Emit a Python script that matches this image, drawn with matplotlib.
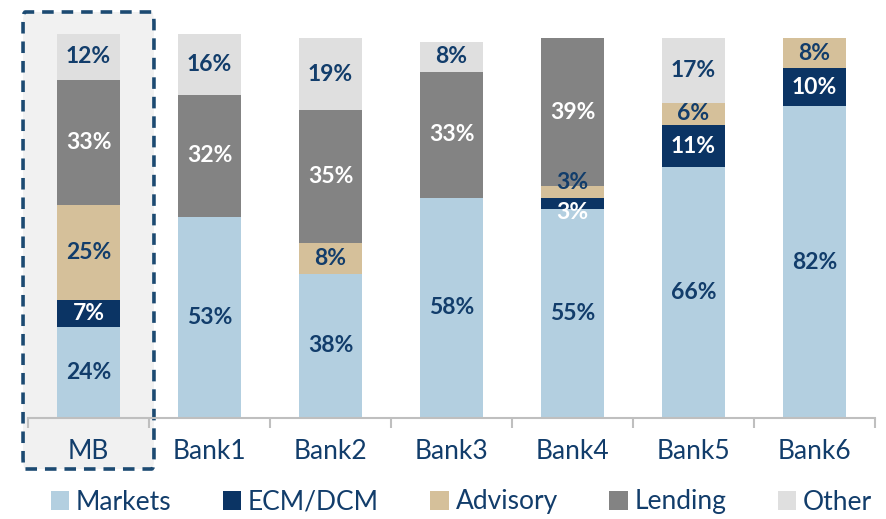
import matplotlib.pyplot as plt
import matplotlib.transforms as mtransforms
from matplotlib.patches import FancyBboxPatch
import numpy as np

plt.rcParams['font.family'] = ['Lato', 'DejaVu Sans']

banks = ['MB', 'Bank1', 'Bank2', 'Bank3', 'Bank4', 'Bank5', 'Bank6']
markets = [24, 53, 38, 58, 55, 66, 82]
ecm_dcm = [7, 0, 0, 0, 3, 11, 10]
advisory = [25, 0, 8, 0, 3, 6, 8]
lending = [33, 32, 35, 33, 39, 0, 0]
other = [12, 16, 19, 8, 0, 17, 0]

series = [
    ('Markets', markets, '#b3cfe0', '#123d6b'),
    ('ECM/DCM', ecm_dcm, '#0b3464', 'white'),
    ('Advisory', advisory, '#d5c09a', '#123d6b'),
    ('Lending', lending, '#838383', 'white'),
    ('Other', other, '#dfdfdf', '#123d6b'),
]
# small nudges so the thin Bank4 slices stay readable
nudge = {(4, 'ECM/DCM'): -2.3, (4, 'Advisory'): 2.6}

text_col = '#123d6b'

fig = plt.figure(figsize=(8.87, 5.19), dpi=100)
ax = fig.add_axes([28 / 887, 1 - 418 / 519, (875 - 28) / 887, (418 - 30) / 519])

x = np.arange(len(banks))
bottom = np.zeros(len(banks))
for name, vals, col, tcol in series:
    vals = np.array(vals, dtype=float)
    ax.bar(x, vals, width=0.52, bottom=bottom, color=col, label=name, zorder=2)
    for i, v in enumerate(vals):
        if v <= 0:
            continue
        y = bottom[i] + v / 2 + nudge.get((i, name), 0)
        ax.text(x[i], y, f'{int(v)}%', ha='center', va='center', color=tcol,
                fontsize=16.5, fontweight='bold', zorder=3)
    bottom += vals

ax.set_xlim(-0.5, len(banks) - 0.5)
ax.set_ylim(0, 102.1)
ax.set_yticks([])
for s in ['top', 'right', 'left']:
    ax.spines[s].set_visible(False)
ax.spines['bottom'].set_color('#bfbfbf')
ax.spines['bottom'].set_linewidth(1.5)

ax.set_xticks(x)
ax.set_xticklabels(banks, fontsize=19, color=text_col)
ax.tick_params(axis='x', which='major', length=0, pad=15)
ax.set_xticks(np.arange(-0.5, len(banks)), minor=True)
ax.tick_params(axis='x', which='minor', length=7, width=1.5, color='#bfbfbf')

# highlight box around MB
trans = mtransforms.blended_transform_factory(ax.transData, fig.transFigure)
box = FancyBboxPatch((-0.541, 1 - 469 / 519), 1.082, (469 - 12) / 519,
                     boxstyle='round,pad=0,rounding_size=0.02',
                     transform=trans, facecolor='#f1f1f1', edgecolor='#1c4a72',
                     linewidth=2.6, linestyle=(0, (3.2, 2.2)), clip_on=False,
                     zorder=0.5)
ax.add_patch(box)

leg = fig.legend(loc='center', bbox_to_anchor=(0.52, 17 / 519), ncol=5,
                 frameon=False, fontsize=19, handlelength=0.7, handleheight=0.7,
                 handletextpad=0.25, columnspacing=1.95, labelcolor=text_col)

fig.savefig('out.png', dpi=100)
